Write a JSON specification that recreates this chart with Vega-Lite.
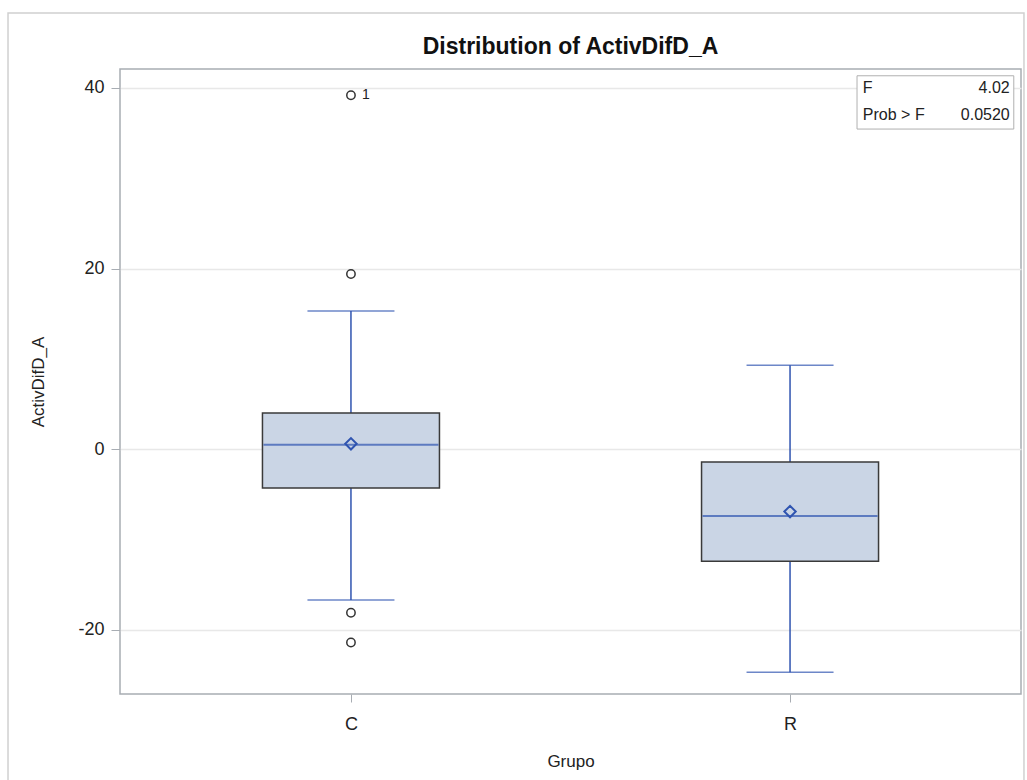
{
  "$schema": "https://vega.github.io/schema/vega-lite/v6.json",
  "width": 901,
  "height": 625,
  "autosize": "none",
  "padding": {"left": 120, "top": 69, "right": 6, "bottom": 86},
  "background": "white",
  "config": {
    "font": "Liberation Sans",
    "view": {"stroke": "#a8adb3", "strokeWidth": 1.5},
    "axis": {"labelFont": "Liberation Sans", "titleFont": "Liberation Sans", "labelColor": "#222", "titleColor": "#222", "labelFontSize": 18, "titleFontSize": 17, "titleFontWeight": "normal", "tickColor": "#a8adb3", "domain": false}
  },
  "title": {"text": "Distribution of ActivDifD_A", "fontSize": 23, "fontWeight": "bold", "font": "Liberation Sans", "color": "#111", "anchor": "middle", "frame": "group", "offset": -47},
  "datasets": {
    "boxes": [
      {"Grupo": "C", "lower": -16.7, "q1": -4.3, "median": 0.5, "q3": 4.0, "upper": 15.3, "mean": 0.6},
      {"Grupo": "R", "lower": -24.7, "q1": -12.4, "median": -7.4, "q3": -1.4, "upper": 9.3, "mean": -6.9}
    ],
    "outliers": [
      {"Grupo": "C", "value": 39.2, "label": "1"},
      {"Grupo": "C", "value": 19.4, "label": ""},
      {"Grupo": "C", "value": -18.1, "label": ""},
      {"Grupo": "C", "value": -21.4, "label": ""}
    ],
    "stats": [
      {"name": "F", "value": "4.02", "pos": 40.0},
      {"name": "Prob > F", "value": "0.0520", "pos": 37.0}
    ]
  },
  "layer": [
    {
      "encoding": {
        "x": {"field": "Grupo", "type": "nominal", "scale": {"type": "point", "padding": 0.526}, "axis": {"labelAngle": 0, "tickSize": 8, "labelPadding": 13, "titlePadding": 20, "grid": false}}
      },
      "layer": [
        {
          "data": {"name": "boxes"},
          "mark": {"type": "rule", "color": "#2f54b0", "strokeWidth": 1.5},
          "encoding": {
            "y": {"field": "lower", "type": "quantitative", "title": "ActivDifD_A", "scale": {"domain": [-27.1, 42.1], "nice": false, "zero": false}, "axis": {"values": [-20, 0, 20, 40], "labelExpr": "replace(datum.label, '\u2212', '-')", "tickSize": 9, "labelPadding": 7, "titlePadding": 30, "grid": true, "gridColor": "#e8e8e8", "gridWidth": 1.5}},
            "y2": {"field": "upper"}
          }
        },
        {
          "data": {"name": "boxes"},
          "mark": {"type": "bar", "size": 177, "fill": "#cad5e5", "stroke": "#3a3a3a", "strokeWidth": 1.5},
          "encoding": {
            "y": {"field": "q1", "type": "quantitative"},
            "y2": {"field": "q3"}
          }
        },
        {
          "data": {"name": "boxes"},
          "mark": {"type": "tick", "size": 175, "thickness": 2, "color": "#2f54b0"},
          "encoding": {"y": {"field": "median", "type": "quantitative"}}
        },
        {
          "data": {"name": "boxes"},
          "mark": {"type": "tick", "size": 87, "thickness": 1.5, "color": "#2f54b0"},
          "encoding": {"y": {"field": "lower", "type": "quantitative"}}
        },
        {
          "data": {"name": "boxes"},
          "mark": {"type": "tick", "size": 87, "thickness": 1.5, "color": "#2f54b0"},
          "encoding": {"y": {"field": "upper", "type": "quantitative"}}
        },
        {
          "data": {"name": "boxes"},
          "mark": {"type": "point", "shape": "diamond", "size": 130, "filled": false, "stroke": "#2f54b0", "strokeWidth": 2, "opacity": 1},
          "encoding": {"y": {"field": "mean", "type": "quantitative"}}
        },
        {
          "data": {"name": "outliers"},
          "mark": {"type": "point", "shape": "circle", "size": 70, "filled": false, "stroke": "#333", "strokeWidth": 1.5, "opacity": 1},
          "encoding": {"y": {"field": "value", "type": "quantitative"}}
        },
        {
          "data": {"name": "outliers"},
          "mark": {"type": "text", "align": "left", "baseline": "middle", "dx": 11, "fontSize": 14, "color": "#222"},
          "encoding": {"y": {"field": "value", "type": "quantitative"}, "text": {"field": "label"}}
        }
      ]
    },
    {
      "layer": [
        {
          "data": {"values": [{}]},
          "mark": {"type": "rect", "fill": null, "stroke": "#d0d0d0", "strokeWidth": 1.5},
          "encoding": {
            "x": {"datum": -0.1243, "type": "quantitative", "scale": {"domain": [0, 1], "nice": false}, "axis": null},
            "x2": {"datum": 1.0033},
            "y": {"datum": -40, "type": "quantitative", "scale": {"domain": [-27.1, 42.1], "nice": false, "zero": false}},
            "y2": {"datum": 48.3}
          }
        },
        {
          "data": {"values": [{}]},
          "mark": {"type": "rect", "fill": "white", "stroke": "#b0b0b0", "strokeWidth": 1},
          "encoding": {
            "x": {"datum": 0.818, "type": "quantitative"},
            "x2": {"datum": 0.992},
            "y": {"datum": 35.45, "type": "quantitative"},
            "y2": {"datum": 41.35}
          }
        },
        {
          "data": {"name": "stats"},
          "mark": {"type": "text", "align": "left", "baseline": "middle", "fontSize": 16, "color": "#222"},
          "encoding": {
            "x": {"datum": 0.8245, "type": "quantitative"},
            "y": {"field": "pos", "type": "quantitative"},
            "text": {"field": "name"}
          }
        },
        {
          "data": {"name": "stats"},
          "mark": {"type": "text", "align": "right", "baseline": "middle", "fontSize": 16, "color": "#222"},
          "encoding": {
            "x": {"datum": 0.9875, "type": "quantitative"},
            "y": {"field": "pos", "type": "quantitative"},
            "text": {"field": "value"}
          }
        }
      ]
    }
  ],
  "resolve": {"scale": {"x": "independent"}, "axis": {"x": "independent"}}
}
